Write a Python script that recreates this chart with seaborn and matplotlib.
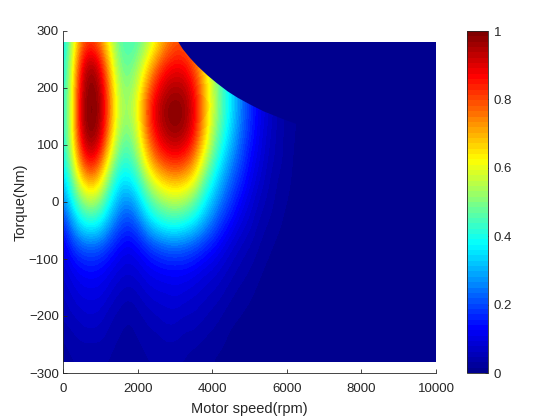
import numpy as np
import matplotlib
matplotlib.use("Agg")
import matplotlib.pyplot as plt
from matplotlib.colors import ListedColormap
from matplotlib.patches import Rectangle
import seaborn as sns

sns.set_style("white")
plt.rcParams["font.family"] = ["Liberation Sans", "DejaVu Sans"]

# columns: 0, 250, 500 ... 6500 rpm; rows: torque top to bottom
speed_step = 250
torque_rows = [280, 240, 200, 160, 120, 80, 40, 0, -40, -80, -120, -160, -200, -240, -280]

row_p280 = [.35, .56, .76, .82, .74, .60, .47, .44, .46, .53, .63, .72, .78, .78, .72, .60, .45, .35, .27, .20, .14, .10, .06, .04, .025, .015, .005]
row_p240 = [.37, .59, .88, .97, .88, .68, .50, .47, .52, .64, .76, .84, .87, .86, .80, .68, .54, .42, .33, .24, .17, .12, .07, .04, .025, .015, .005]
row_p200 = [.38, .61, .93, 1.0, .95, .74, .54, .50, .58, .74, .86, .93, .95, .94, .87, .72, .57, .45, .35, .26, .18, .12, .08, .045, .025, .015, .005]
row_p160 = [.38, .62, .95, 1.0, .97, .76, .56, .52, .62, .80, .92, .98, 1.0, .98, .90, .74, .58, .46, .36, .26, .18, .12, .08, .045, .025, .015, .005]
row_p120 = [.38, .61, .93, 1.0, .94, .72, .53, .48, .58, .76, .88, .95, .97, .95, .87, .71, .55, .43, .33, .24, .17, .11, .07, .04, .025, .015, .005]
row_p80 = [.37, .57, .82, .92, .82, .62, .46, .43, .52, .68, .79, .85, .87, .85, .77, .62, .48, .37, .28, .21, .14, .10, .06, .04, .025, .01, .005]
row_p40 = [.32, .48, .66, .74, .66, .49, .37, .36, .42, .54, .64, .69, .71, .69, .63, .50, .39, .30, .23, .17, .12, .08, .05, .03, .02, .01, .005]
row_0 = [.25, .38, .50, .55, .50, .38, .29, .26, .32, .42, .49, .53, .55, .53, .48, .39, .31, .24, .18, .13, .09, .06, .04, .025, .015, .01, .005]
row_n40 = [.16, .27, .36, .39, .36, .28, .21, .18, .22, .30, .36, .39, .40, .38, .35, .29, .23, .17, .13, .09, .07, .04, .03, .02, .01, .005, 0]
row_n80 = [.10, .17, .21, .22, .21, .17, .13, .11, .13, .17, .20, .22, .23, .22, .20, .17, .14, .11, .08, .06, .045, .03, .02, .01, .005, 0, 0]
row_n120 = [.08, .11, .13, .14, .13, .11, .09, .08, .09, .11, .12, .13, .13, .13, .12, .10, .09, .07, .055, .04, .03, .02, .01, .005, 0, 0, 0]
row_n160 = [.06, .08, .10, .10, .10, .08, .06, .05, .06, .08, .09, .09, .10, .09, .08, .07, .06, .05, .035, .025, .02, .01, .005, 0, 0, 0, 0]
row_n200 = [.05, .06, .07, .08, .07, .05, .04, .03, .04, .05, .06, .07, .07, .06, .06, .05, .04, .03, .02, .015, .01, .005, 0, 0, 0, 0, 0]
row_n240 = [.03, .04, .05, .05, .05, .04, .03, .025, .03, .04, .04, .05, .05, .04, .04, .03, .025, .02, .01, .01, .005, 0, 0, 0, 0, 0, 0]
row_n280 = [.02, .03, .03, .03, .03, .03, .02, .02, .02, .03, .03, .03, .03, .03, .02, .02, .015, .01, .01, .005, 0, 0, 0, 0, 0, 0, 0]

# max torque limit, everything above it is zero
limit_speed = [3083, 3200, 3400, 3600, 3861, 4100, 4400, 4665, 5000, 5362, 5898, 6400, 7000, 8000, 9000, 10200]
limit_torque = [281, 269, 253, 239, 223, 210, 195, 184, 172, 160, 146, 134, 123, 108, 96, 84]

xticks = [0, 2000, 4000, 6000, 8000, 10000]
yticks = [-300, -200, -100, 0, 100, 200, 300]
cticks = [0, 0.2, 0.4, 0.6, 0.8, 1]
cticklabels = ["0", "0.2", "0.4", "0.6", "0.8", "1"]

jet_colors = ["#00008f", "#0000ff", "#0080ff", "#00ffff", "#80ff80",
              "#ffff00", "#ff8000", "#ff0000", "#800000"]
cmap = ListedColormap(sns.blend_palette(jet_colors, 64))

table = np.array([row_p280, row_p240, row_p200, row_p160, row_p120,
                  row_p80, row_p40, row_0, row_n40, row_n80, row_n120,
                  row_n160, row_n200, row_n240, row_n280])
# nothing left above 6500 rpm
table = np.pad(table, ((0, 0), (0, 14)))

fig = plt.figure(figsize=(5.6, 4.2), dpi=100)
ax = fig.add_axes([63 / 560, 1 - 373 / 420, 373 / 560, 342 / 420])

half_x = speed_step / 2
half_y = (torque_rows[0] - torque_rows[1]) / 2
im = ax.imshow(
    table,
    cmap=cmap,
    vmin=0,
    vmax=1,
    aspect="auto",
    interpolation="bicubic",
    extent=[-half_x, 10000 + half_x, torque_rows[-1] - half_y, torque_rows[0] + half_y],
)
data_box = Rectangle((0, -280), 9985, 560, transform=ax.transData)
im.set_clip_path(data_box)

limit_fill = ax.fill_between(limit_speed, limit_torque, 300, color=cmap(0), lw=0)
limit_fill.set_clip_path(data_box)

ax.set_xlim(0, 10000)
ax.set_ylim(-300, 300)
ax.set_xticks(xticks)
ax.set_yticks(yticks)
ax.set_xlabel("Motor speed(rpm)", fontsize=10.5, color="#262626", labelpad=5)
ax.set_ylabel("Torque(Nm)", fontsize=10.5, color="#262626", labelpad=1)
ax.tick_params(direction="in", length=3, width=0.6, labelsize=9.5,
               colors="#262626", pad=3, bottom=True, left=True)
ax.tick_params(axis="x", pad=7)
sns.despine(ax=ax)
for side in ["left", "bottom"]:
    ax.spines[side].set_linewidth(0.6)
    ax.spines[side].set_color("#262626")

cax = fig.add_axes([467 / 560, 1 - 373 / 420, 21 / 560, 342 / 420])
cbar = fig.colorbar(im, cax=cax, ticks=cticks)
cbar.set_ticklabels(cticklabels)
cbar.ax.tick_params(direction="in", length=2, width=0.6, labelsize=9.5,
                    colors="#262626", pad=4, right=True)
cbar.outline.set_linewidth(0.6)
cbar.outline.set_edgecolor("#262626")

fig.savefig("out.png", dpi=100)
